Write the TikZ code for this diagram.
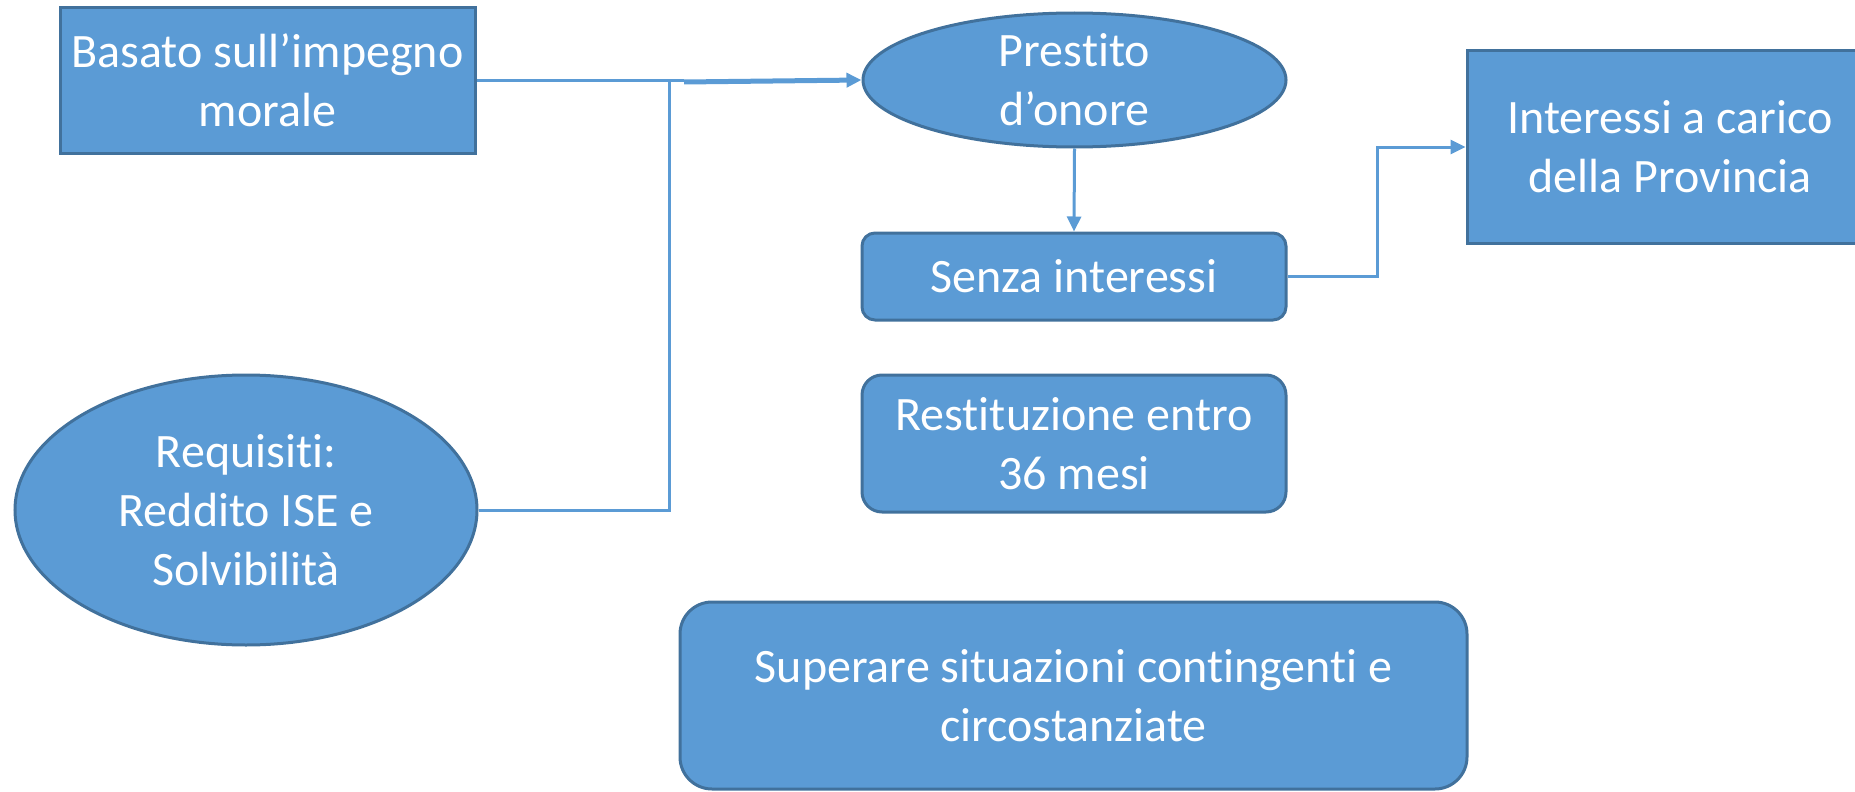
\documentclass[tikz,border=0pt]{standalone}
\usepackage{fontspec}
\setmainfont[Ligatures=NoCommon]{Carlito}
\usetikzlibrary{shapes.geometric,arrows.meta}
\definecolor{boxfill}{HTML}{5B9BD5}
\definecolor{boxline}{HTML}{41719C}
\definecolor{connline}{HTML}{5B9BD5}
\tikzset{
  base/.style={fill=boxfill, draw=boxline, line width=3pt, text=white, align=center, inner sep=0pt,
    font=\fontsize{48}{59}\selectfont},
  sqbox/.style={base, rectangle},
  rbox/.style={base, rectangle, rounded corners=#1},
  ebox/.style={base, ellipse},
  conn/.style={draw=connline, line width=3pt},
  arr/.style={-{Triangle[length=15pt,width=14pt]}},
}
\begin{document}
\begin{tikzpicture}[x=1pt,y=-1pt]
\useasboundingbox (0,0) rectangle (1855,792);
\clip (0,0) rectangle (1855,792);
\node[sqbox, minimum width=415pt, minimum height=145pt] (B) at (267.5,80.5) {Basato sull’impegno\\morale};
\node[ebox, minimum width=423pt, minimum height=134pt] (P) at (1074.5,80) {Prestito\\d’onore};
\node[rbox=13pt, minimum width=424pt, minimum height=87pt] (S) at (1074,276.5) {Senza interessi};
\node[rbox=20pt, minimum width=424pt, minimum height=137pt] (T) at (1074,443.5) {Restituzione entro\\36 mesi};
\node[sqbox, minimum width=406pt, minimum height=192pt] (I) at (1670,147) {Interessi a carico\\della Provincia};
\node[ebox, minimum width=462pt, minimum height=270pt] (R) at (246,510) {Requisiti:\\Reddito ISE e\\Solvibilità};
\node[rbox=32pt, minimum width=787pt, minimum height=187pt] (U) at (1073.5,695.5) {Superare situazioni contingenti e\\circostanziate};
\coordinate (jv) at (669,81);
\coordinate (jx) at (684,82);
\draw[conn] (B.east) -- (B.east -| jx);
\draw[conn] (R.east) -| (jv);
\draw[conn, line width=5pt, arr] (jx) -- (P.west);
\draw[conn, arr] (P.south) -- (S.north);
\draw[conn, arr] (S.east) -- ++(90,0) |- (I.west);
\end{tikzpicture}
\end{document}
